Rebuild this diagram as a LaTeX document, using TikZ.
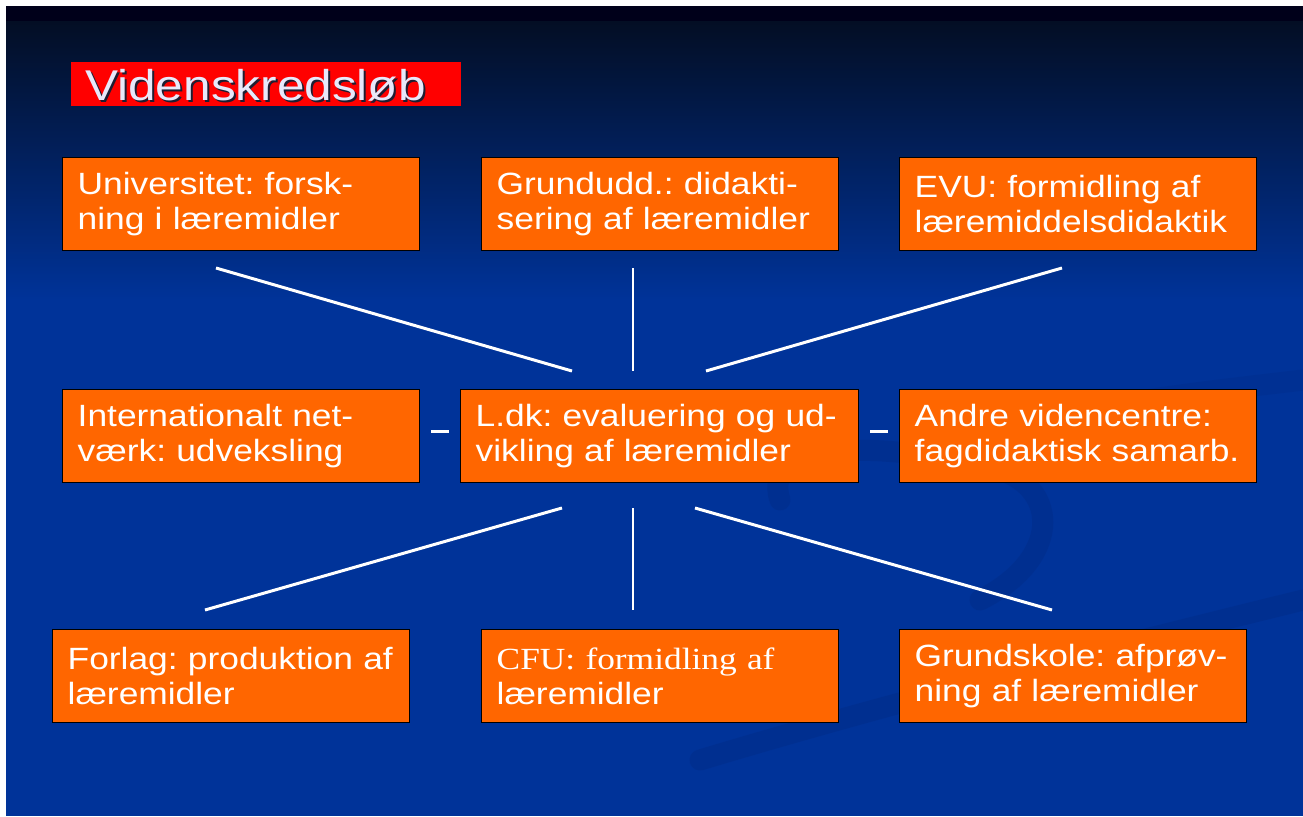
\documentclass[tikz,border=0pt]{standalone}
\usepackage{fontspec}
\setmainfont{Liberation Sans}[FakeStretch=1.15]
\newfontfamily\cfuserif{Liberation Serif}[FakeStretch=1.15]
\usepackage{tikz}
\usetikzlibrary{positioning}
\usepackage{xcolor}
\definecolor{vkblue}{RGB}{0,51,153}
\definecolor{vkdark}{RGB}{0,0,26}
\definecolor{vktop}{RGB}{3,14,36}
\definecolor{vkswoosh}{RGB}{0,38,120}
\definecolor{vkorange}{RGB}{255,102,0}
\definecolor{vkred}{RGB}{255,0,0}
\definecolor{vktitle}{RGB}{232,232,250}
\definecolor{vkshadow}{RGB}{30,30,50}
\tikzstyle{vkbox} = [draw=black, line width=0.8pt, fill=vkorange, text=white, anchor=north west, align=left, inner xsep=0.3cm, inner ysep=0pt, minimum height=1.86cm, font=\fontsize{17.5}{19.9}\selectfont, execute at begin node=\frenchspacing]
\tikzstyle{link} = [white, line width=1.7pt]
\tikzstyle{swoosh} = [vkswoosh, line width=12pt, opacity=0.25, line cap=round]

\begin{document}
\begin{tikzpicture}[x=0.02cm, y=-0.02cm]
\useasboundingbox (0,0) rectangle (1303,816);
% slide background
\fill[white] (0,0) rectangle (1303,816);
\fill[vkblue] (6,6) rectangle (1303,816);
\shade[top color=vktop, bottom color=vkblue] (6,21) rectangle (1303,300);
\fill[vkdark] (6,6) rectangle (1303,21);
\draw[swoosh] (780,500) .. controls (760,440) and (880,440) .. (1000,470);
\draw[swoosh] (1000,470) .. controls (1060,490) and (1060,560) .. (980,600);
\draw[swoosh] (700,760) .. controls (900,700) and (1100,650) .. (1303,600);
\draw[swoosh, opacity=0.18] (1050,420) .. controls (1120,400) and (1220,390) .. (1303,380);

% title
\node[fill=vkred, anchor=north west, inner sep=0pt, minimum width=7.8cm, minimum height=0.88cm] (titlebox) at (71,62) {};
\node[anchor=base west, inner sep=0pt, text=vkshadow, font=\fontsize{24.5}{26}\selectfont] (titleshadow) at (87,102) {Videnskredsløb};
\node[anchor=base west, inner sep=0pt, text=vktitle, font=\fontsize{24.5}{26}\selectfont] (title) at (85,100) {Videnskredsløb};

% top row
\node[vkbox, text width=6.54cm] (univ) at (62,157) {Universitet: forsk-\\ning i læremidler};
\node[vkbox, text width=6.54cm] (grund) at (481,157) {Grundudd.: didakti-\\sering af læremidler};
\node[vkbox, text width=6.54cm] (evu) at (899,157) {EVU: formidling af\\læremiddelsdidaktik};

% middle row
\node[vkbox, text width=6.54cm] (intl) at (62,389) {Internationalt net-\\værk: udveksling};
\node[vkbox, text width=7.36cm] (ldk) at (460,389) {L.dk: evaluering og ud-\\vikling af læremidler};
\node[vkbox, text width=6.54cm] (andre) at (899,389) {Andre videncentre:\\fagdidaktisk samarb.};

% bottom row
\node[vkbox, text width=6.54cm] (forlag) at (52,629) {Forlag: produktion af\\læremidler};
\node[vkbox, text width=6.54cm] (cfu) at (481,629) {{\cfuserif CFU: formidling af}\\læremidler};
\node[vkbox, text width=6.34cm] (gskole) at (899,629) {Grundskole: afprøv-\\ning af læremidler};

% connector ends
\coordinate (univend) at (216,268);
\coordinate (univhub) at (572,371);
\coordinate (grundend) at (633,268);
\coordinate (grundhub) at (633,371);
\coordinate (evuend) at (1062,268);
\coordinate (evuhub) at (706,371);
\coordinate (intlend) at (431,431);
\coordinate (intlhub) at (449,431);
\coordinate (andrehub) at (870,431);
\coordinate (andreend) at (888,431);
\coordinate (forlaghub) at (562,508);
\coordinate (forlagend) at (205,610);
\coordinate (cfuhub) at (633,508);
\coordinate (cfuend) at (633,610);
\coordinate (gskolehub) at (695,508);
\coordinate (gskoleend) at (1052,610);

\draw[link] (univend) -- (univhub);
\draw[link] (grundend) -- (grundhub);
\draw[link] (evuend) -- (evuhub);
\draw[link] (intlend) -- (intlhub);
\draw[link] (andrehub) -- (andreend);
\draw[link] (forlaghub) -- (forlagend);
\draw[link] (cfuhub) -- (cfuend);
\draw[link] (gskolehub) -- (gskoleend);
\end{tikzpicture}
\end{document}
